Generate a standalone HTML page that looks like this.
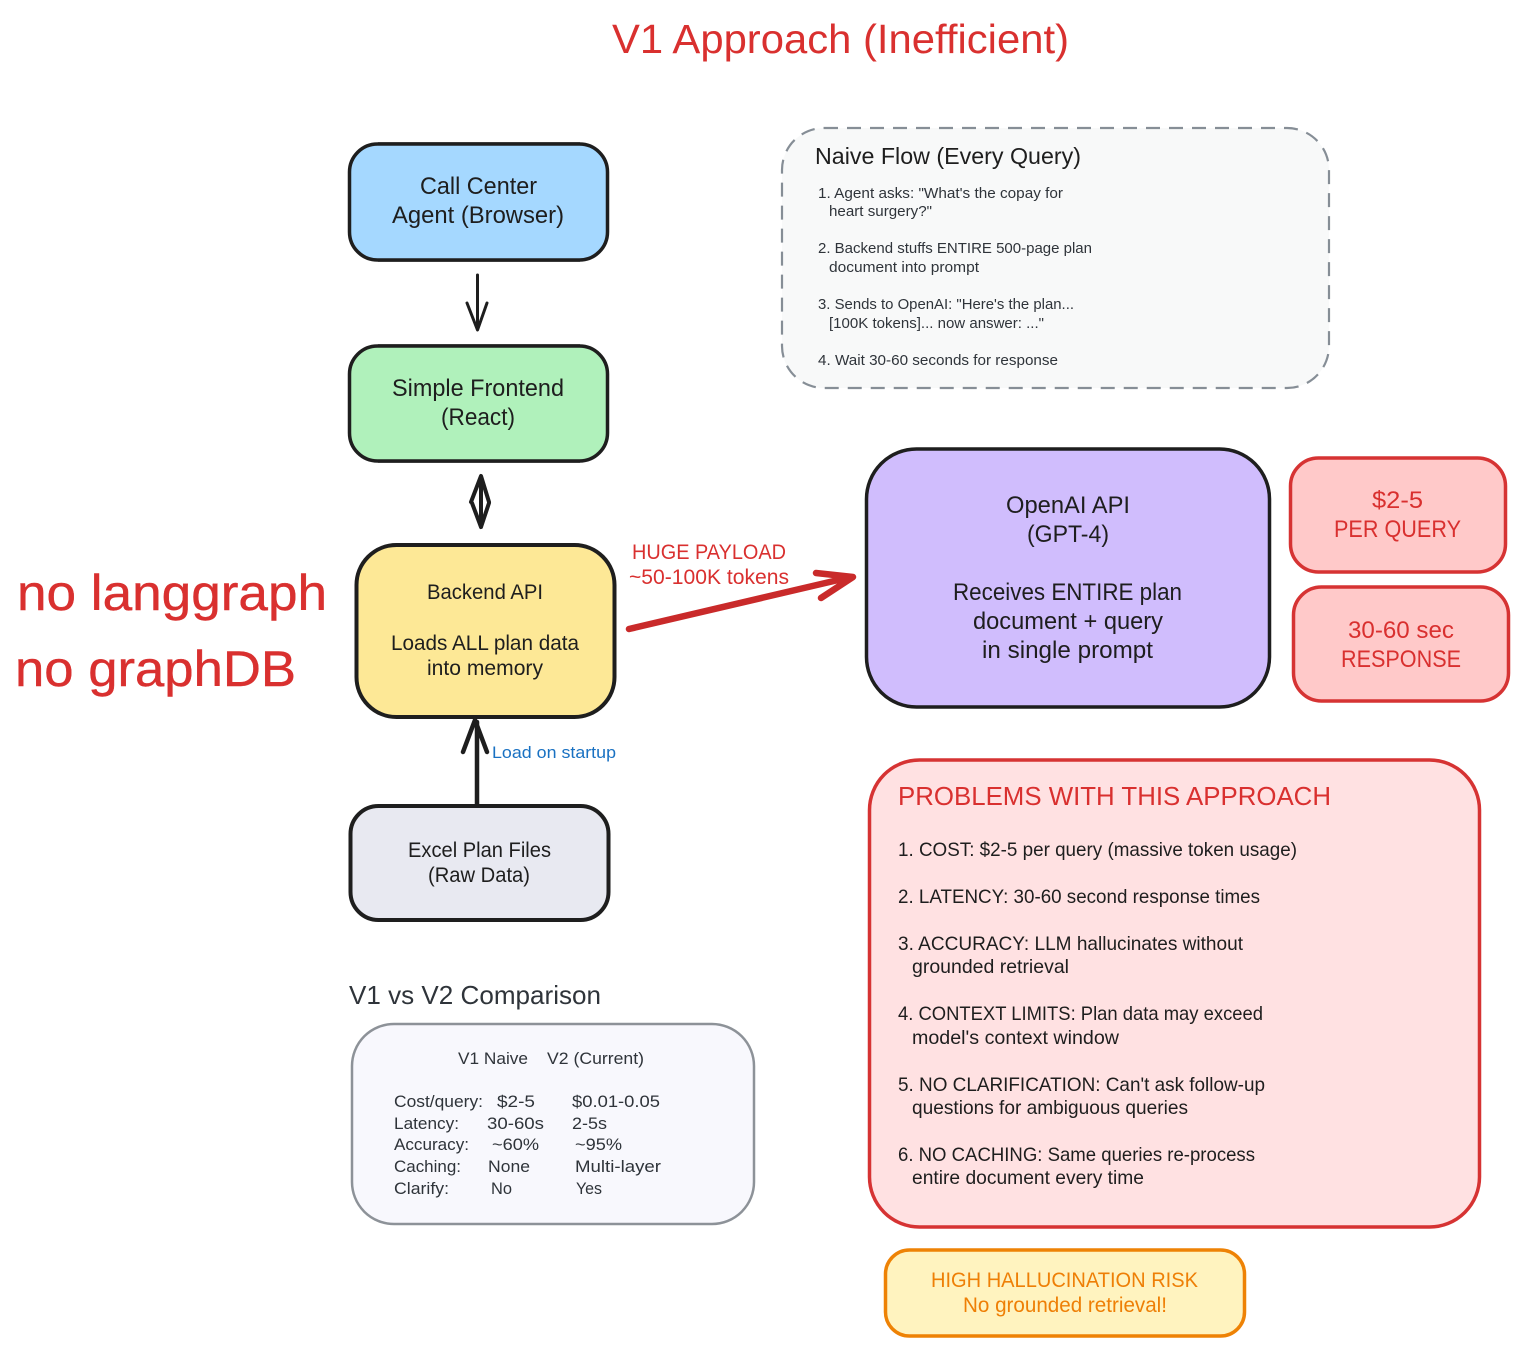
<!DOCTYPE html>
<html><head><meta charset="utf-8"><style>
html,body{margin:0;padding:0;background:#fff}
svg{display:block}
text{font-family:"Liberation Sans",sans-serif}
.d{fill:#1e1e1e}.g{fill:#2f343a}.r{fill:#d9302f}.o{fill:#ee7f06}
.b{stroke:#d9302f;stroke-width:.4}
</style></head><body>
<svg width="1523" height="1350" viewBox="0 0 1523 1350" xmlns="http://www.w3.org/2000/svg">
<rect width="1523" height="1350" fill="#fff"/>

<!-- boxes -->
<rect x="349.5" y="144" width="258" height="116" rx="28" fill="#a5d8ff" stroke="#1e1e1e" stroke-width="3.5"/>
<path d="M378 143H580M378 261H580" stroke="#1e1e1e" stroke-width="1.5" fill="none"/>
<rect x="349.5" y="346" width="258" height="115" rx="28" fill="#b0f1bb" stroke="#1e1e1e" stroke-width="3.5"/>
<path d="M378 345H580M378 462H580" stroke="#1e1e1e" stroke-width="1.5" fill="none"/>
<rect x="356.5" y="545" width="258" height="172" rx="40" fill="#fde896" stroke="#1e1e1e" stroke-width="4"/>
<rect x="350.5" y="806" width="258" height="114" rx="28" fill="#e8e9f1" stroke="#1e1e1e" stroke-width="4"/>
<rect x="352" y="1024" width="402" height="200" rx="42" fill="#f8f8fd" stroke="#8d9298" stroke-width="2.5"/>
<rect x="782" y="128" width="547" height="260" rx="42" fill="#f8f9f9" stroke="#868e96" stroke-width="2.2" stroke-dasharray="14 9"/>
<rect x="866.5" y="449" width="403" height="258" rx="50" fill="#d0bdfd" stroke="#1e1e1e" stroke-width="3.5"/>
<rect x="1290.5" y="458" width="215" height="114" rx="28" fill="#ffc9c9" stroke="#d63333" stroke-width="3.5"/>
<rect x="1293.5" y="587" width="215" height="114" rx="28" fill="#ffc9c9" stroke="#d63333" stroke-width="3.5"/>
<rect x="869.5" y="760" width="610" height="467" rx="50" fill="#ffe1e2" stroke="#d63333" stroke-width="3.5"/>
<rect x="885.5" y="1250" width="359" height="86" rx="24" fill="#fff3bf" stroke="#ee8205" stroke-width="3.5"/>

<!-- arrows -->
<g fill="none" stroke-linecap="round" stroke-linejoin="round">
<path d="M477.5 275V329M467 303L477.5 330L487 303" stroke="#1e1e1e" stroke-width="3"/>
<path d="M481 477V527M471 502L481 476L489 502M472 503L481 527L489 503" stroke="#1e1e1e" stroke-width="4"/>
<path d="M477 805V722M463 752L475 720L487 752" stroke="#1e1e1e" stroke-width="4.5"/>
<path d="M629 629L851 577M816 573L853 577L821 598" stroke="#c92a2a" stroke-width="6.5"/>
</g>

<!-- title -->
<text class="r" x="612" y="53" font-size="41" textLength="457" lengthAdjust="spacingAndGlyphs">V1 Approach (Inefficient)</text>
<text class="r b" x="17" y="610" font-size="50" textLength="310" lengthAdjust="spacingAndGlyphs">no langgraph</text>
<text class="r b" x="15" y="686" font-size="50" textLength="281" lengthAdjust="spacingAndGlyphs">no graphDB</text>

<!-- main nodes -->
<g class="d" font-size="24">
<text x="420" y="194" textLength="117" lengthAdjust="spacingAndGlyphs">Call Center</text>
<text x="392" y="223" textLength="172" lengthAdjust="spacingAndGlyphs">Agent (Browser)</text>
<text x="392" y="396" textLength="172" lengthAdjust="spacingAndGlyphs">Simple Frontend</text>
<text x="441" y="425" textLength="74" lengthAdjust="spacingAndGlyphs">(React)</text>
<text x="1006" y="513" textLength="124" lengthAdjust="spacingAndGlyphs">OpenAI API</text>
<text x="1027" y="542" textLength="82" lengthAdjust="spacingAndGlyphs">(GPT-4)</text>
<text x="953" y="600" textLength="229" lengthAdjust="spacingAndGlyphs">Receives ENTIRE plan</text>
<text x="973" y="629" textLength="190" lengthAdjust="spacingAndGlyphs">document + query</text>
<text x="982" y="658" textLength="171" lengthAdjust="spacingAndGlyphs">in single prompt</text>
</g>
<g class="d" font-size="21">
<text x="427" y="599" textLength="116" lengthAdjust="spacingAndGlyphs">Backend API</text>
<text x="391" y="650" textLength="188" lengthAdjust="spacingAndGlyphs">Loads ALL plan data</text>
<text x="427" y="675" textLength="116" lengthAdjust="spacingAndGlyphs">into memory</text>
<text x="408" y="857" textLength="143" lengthAdjust="spacingAndGlyphs">Excel Plan Files</text>
<text x="428" y="882" textLength="102" lengthAdjust="spacingAndGlyphs">(Raw Data)</text>
</g>
<g class="r" font-size="21">
<text x="632" y="559" textLength="154" lengthAdjust="spacingAndGlyphs">HUGE PAYLOAD</text>
<text x="629" y="584" textLength="160" lengthAdjust="spacingAndGlyphs">~50-100K tokens</text>
</g>
<text x="492" y="758" font-size="17" fill="#1971c2" textLength="124" lengthAdjust="spacingAndGlyphs">Load on startup</text>

<!-- naive flow -->
<text class="d" x="815" y="164" font-size="23" textLength="266" lengthAdjust="spacingAndGlyphs">Naive Flow (Every Query)</text>
<g class="g" font-size="15">
<text x="818" y="198" textLength="245" lengthAdjust="spacingAndGlyphs">1. Agent asks: "What's the copay for</text>
<text x="829" y="216" textLength="103" lengthAdjust="spacingAndGlyphs">heart surgery?"</text>
<text x="818" y="253" textLength="274" lengthAdjust="spacingAndGlyphs">2. Backend stuffs ENTIRE 500-page plan</text>
<text x="829" y="272" textLength="150" lengthAdjust="spacingAndGlyphs">document into prompt</text>
<text x="818" y="309" textLength="256" lengthAdjust="spacingAndGlyphs">3. Sends to OpenAI: "Here's the plan...</text>
<text x="829" y="328" textLength="215" lengthAdjust="spacingAndGlyphs">[100K tokens]... now answer: ..."</text>
<text x="818" y="365" textLength="240" lengthAdjust="spacingAndGlyphs">4. Wait 30-60 seconds for response</text>
</g>

<!-- cost -->
<g class="r" font-size="24">
<text x="1372" y="508" textLength="51" lengthAdjust="spacingAndGlyphs">$2-5</text>
<text x="1334" y="537" textLength="127" lengthAdjust="spacingAndGlyphs">PER QUERY</text>
<text x="1348" y="638" textLength="106" lengthAdjust="spacingAndGlyphs">30-60 sec</text>
<text x="1341" y="667" textLength="120" lengthAdjust="spacingAndGlyphs">RESPONSE</text>
</g>

<!-- problems -->
<text class="r" x="898" y="805" font-size="26" textLength="433" lengthAdjust="spacingAndGlyphs">PROBLEMS WITH THIS APPROACH</text>
<g class="d" font-size="19.5">
<text x="898" y="856" textLength="399" lengthAdjust="spacingAndGlyphs">1. COST: $2-5 per query (massive token usage)</text>
<text x="898" y="903" textLength="362" lengthAdjust="spacingAndGlyphs">2. LATENCY: 30-60 second response times</text>
<text x="898" y="950" textLength="345" lengthAdjust="spacingAndGlyphs">3. ACCURACY: LLM hallucinates without</text>
<text x="912" y="973" textLength="157" lengthAdjust="spacingAndGlyphs">grounded retrieval</text>
<text x="898" y="1020" textLength="365" lengthAdjust="spacingAndGlyphs">4. CONTEXT LIMITS: Plan data may exceed</text>
<text x="912" y="1044" textLength="207" lengthAdjust="spacingAndGlyphs">model's context window</text>
<text x="898" y="1091" textLength="367" lengthAdjust="spacingAndGlyphs">5. NO CLARIFICATION: Can't ask follow-up</text>
<text x="912" y="1114" textLength="276" lengthAdjust="spacingAndGlyphs">questions for ambiguous queries</text>
<text x="898" y="1161" textLength="357" lengthAdjust="spacingAndGlyphs">6. NO CACHING: Same queries re-process</text>
<text x="912" y="1184" textLength="232" lengthAdjust="spacingAndGlyphs">entire document every time</text>
</g>
<g class="o" font-size="21">
<text x="931" y="1287" textLength="267" lengthAdjust="spacingAndGlyphs">HIGH HALLUCINATION RISK</text>
<text x="963" y="1312" textLength="204" lengthAdjust="spacingAndGlyphs">No grounded retrieval!</text>
</g>

<!-- comparison -->
<text class="g" x="349" y="1004" font-size="26" textLength="252" lengthAdjust="spacingAndGlyphs">V1 vs V2 Comparison</text>
<g class="g" font-size="17">
<text x="458" y="1064" textLength="70" lengthAdjust="spacingAndGlyphs">V1 Naive</text><text x="547" y="1064" textLength="97" lengthAdjust="spacingAndGlyphs">V2 (Current)</text>
<text x="394" y="1107" textLength="89" lengthAdjust="spacingAndGlyphs">Cost/query:</text><text x="497" y="1107" textLength="38" lengthAdjust="spacingAndGlyphs">$2-5</text><text x="572" y="1107" textLength="88" lengthAdjust="spacingAndGlyphs">$0.01-0.05</text>
<text x="394" y="1129" textLength="65" lengthAdjust="spacingAndGlyphs">Latency:</text><text x="487" y="1129" textLength="57" lengthAdjust="spacingAndGlyphs">30-60s</text><text x="572" y="1129" textLength="35" lengthAdjust="spacingAndGlyphs">2-5s</text>
<text x="394" y="1150" textLength="75" lengthAdjust="spacingAndGlyphs">Accuracy:</text><text x="492" y="1150" textLength="47" lengthAdjust="spacingAndGlyphs">~60%</text><text x="575" y="1150" textLength="47" lengthAdjust="spacingAndGlyphs">~95%</text>
<text x="394" y="1172" textLength="67" lengthAdjust="spacingAndGlyphs">Caching:</text><text x="488" y="1172" textLength="42" lengthAdjust="spacingAndGlyphs">None</text><text x="575" y="1172" textLength="86" lengthAdjust="spacingAndGlyphs">Multi-layer</text>
<text x="394" y="1194" textLength="55" lengthAdjust="spacingAndGlyphs">Clarify:</text><text x="491" y="1194" textLength="21" lengthAdjust="spacingAndGlyphs">No</text><text x="576" y="1194" textLength="26" lengthAdjust="spacingAndGlyphs">Yes</text>
</g>
</svg>
</body></html>
